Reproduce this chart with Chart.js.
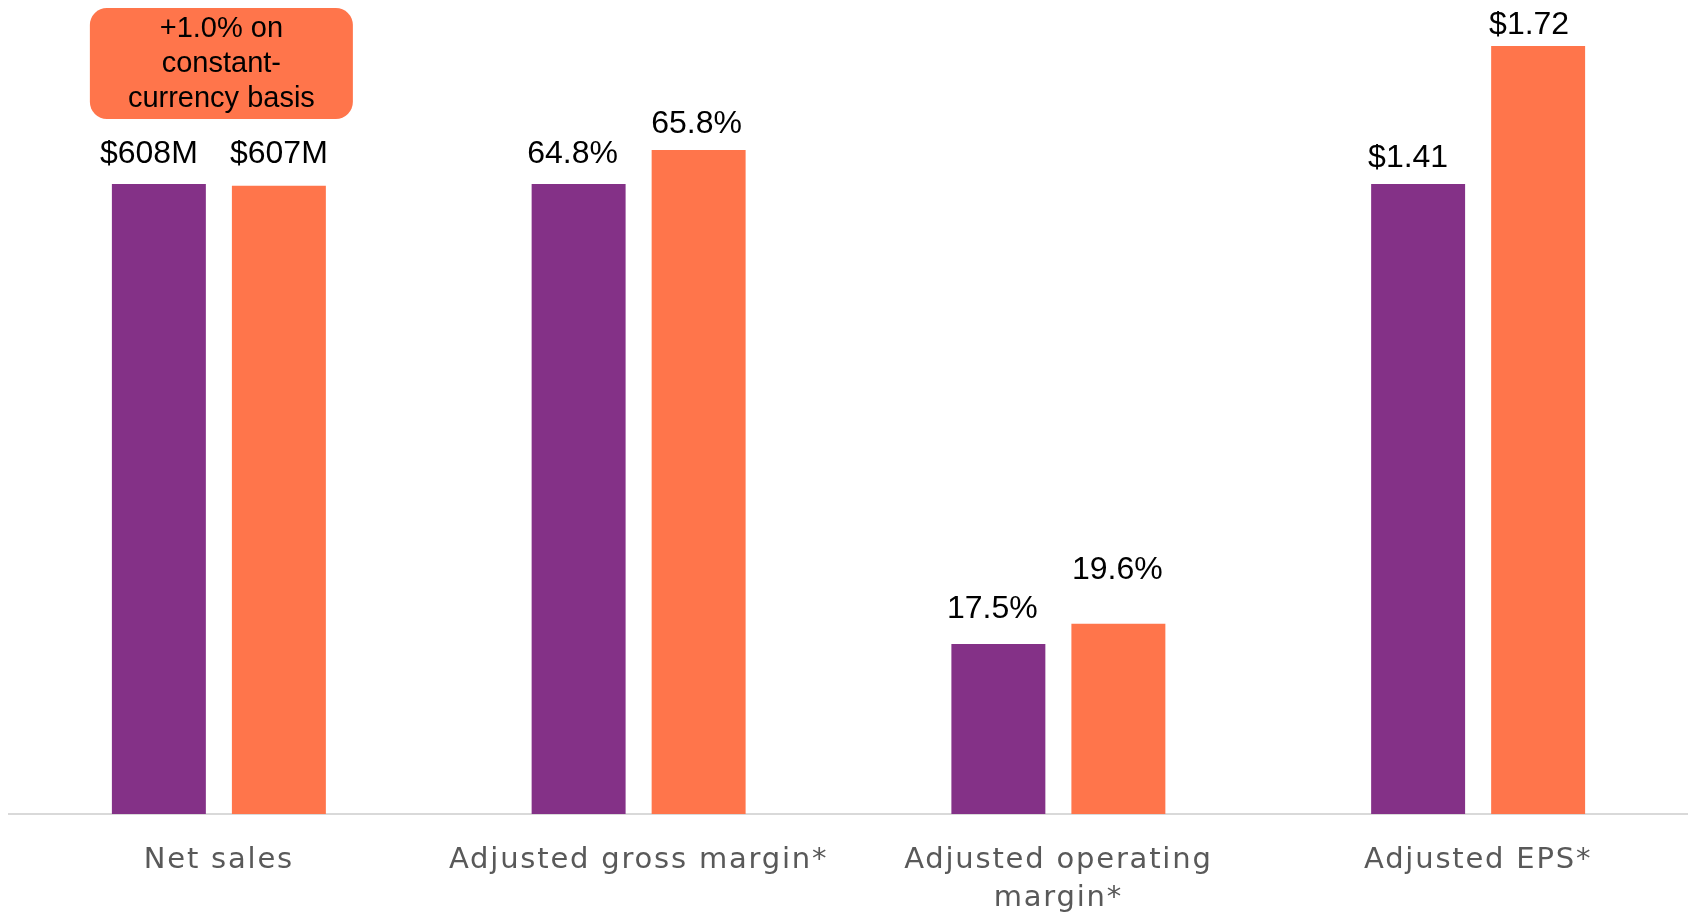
<!DOCTYPE html>
<html>
<head>
<meta charset="utf-8">
<script src="https://cdn.jsdelivr.net/npm/chart.js@4"></script>
<style>
html,body{margin:0;padding:0;background:#fff;}
#wrap{position:relative;width:1688px;height:913px;}
</style>
</head>
<body>
<div id="wrap"><canvas id="c"></canvas></div>
<script>
// ---- data ----
const categories = ['Net sales', 'Adjusted gross margin*', ['Adjusted operating', 'margin*'], 'Adjusted EPS*'];
const priorLabels = ['$608M', '64.8%', '17.5%', '$1.41'];
const currentLabels = ['$607M', '65.8%', '19.6%', '$1.72'];
// bar heights (index, prior-year bar = 100)
const priorIndex = [100, 100, 27.0, 100];
const currentIndex = [99.7, 105.4, 30.2, 121.9];
const calloutLines = ['+1.0% on', 'constant-', 'currency basis'];

// ---- styling ----
const PURPLE = '#843187';
const ORANGE = '#FF754B';
const labelOffsets = { // [dx, dy] per bar, for the value labels
  prior: [[-10, 21], [-6, 21], [-6, 26], [-10, 17]],
  current: [[0, 23], [-2, 17], [-1, 45], [-9, 12]]
};

const valueLabels = {
  id: 'valueLabels',
  beforeDraw(chart) {
    chart.ctx.letterSpacing = '1.8px';
  },
  afterDatasetsDraw(chart) {
    const ctx = chart.ctx;
    ctx.save();
    ctx.letterSpacing = '0px';
    ctx.fillStyle = '#000';
    ctx.font = '32px "Liberation Sans", Arial, sans-serif';
    ctx.textAlign = 'center';
    ctx.textBaseline = 'alphabetic';
    const sets = [[priorLabels, labelOffsets.prior], [currentLabels, labelOffsets.current]];
    sets.forEach(([labels, offs], di) => {
      const meta = chart.getDatasetMeta(di);
      meta.data.forEach((bar, i) => {
        ctx.fillText(labels[i], bar.x + offs[i][0], bar.y - offs[i][1]);
      });
    });
    // callout box above Net sales
    const xs = chart.scales.x;
    const cx = xs.getPixelForValue(0) + 2.5;
    const w = 263, h = 111, top = chart.chartArea.top + 8, r = 17;
    ctx.fillStyle = ORANGE;
    ctx.beginPath();
    ctx.roundRect(cx - w / 2, top, w, h, r);
    ctx.fill();
    ctx.fillStyle = '#000';
    ctx.font = '29px "Liberation Sans", Arial, sans-serif';
    calloutLines.forEach((t, i) => {
      ctx.fillText(t, cx, top + 29 + i * 35);
    });
    ctx.restore();
  }
};

new Chart(document.getElementById('c'), {
  type: 'bar',
  data: {
    labels: categories,
    datasets: [
      { label: 'Prior', data: priorIndex, backgroundColor: PURPLE, borderWidth: 0 },
      { label: 'Current', data: currentIndex, backgroundColor: ORANGE, borderWidth: 0 }
    ]
  },
  options: {
    responsive: true,
    maintainAspectRatio: false,
    animation: false,
    categoryPercentage: 0.5718,
    barPercentage: 0.783,
    layout: { padding: { left: 9, right: 0, top: 0, bottom: 0 } },
    plugins: { legend: { display: false }, tooltip: { enabled: false } },
    scales: {
      x: {
        grid: { display: false, drawTicks: false },
        border: { display: true, color: '#d9d9d9', width: 2 },
        ticks: {
          color: '#595959',
          padding: 27,
          maxRotation: 0,
          autoSkip: false,
          font: { family: '"DejaVu Sans", Verdana, sans-serif', size: 29, lineHeight: 1.32 }
        },
        afterFit(scale) { scale.height = 99; }
      },
      y: {
        display: false,
        min: 0,
        max: 129.2
      }
    }
  },
  plugins: [valueLabels]
});
</script>
</body>
</html>
